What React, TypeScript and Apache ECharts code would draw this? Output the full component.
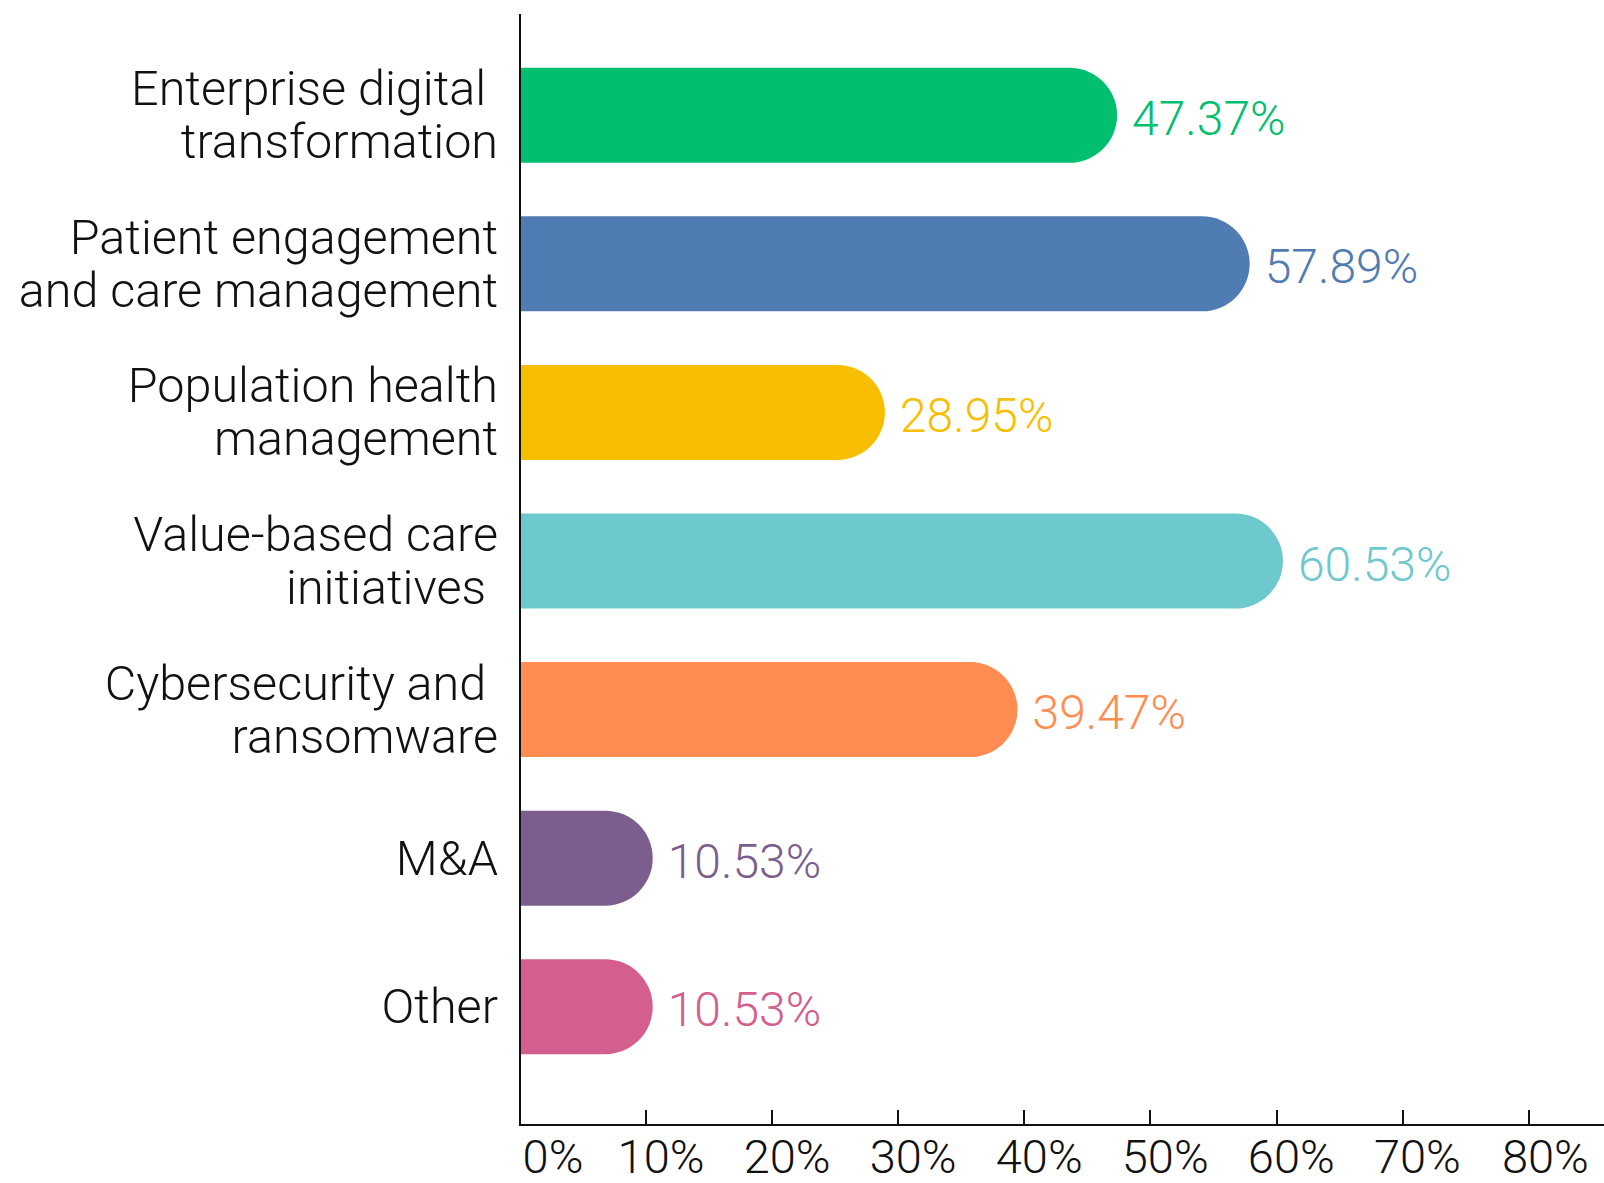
import React, { useEffect, useRef } from "react";
import * as echarts from "echarts";

const categories = [
  "Enterprise digital \ntransformation",
  "Patient engagement\nand care management",
  "Population health\nmanagement",
  "Value-based care\ninitiatives ",
  "Cybersecurity and \nransomware",
  "M&A",
  "Other",
];
const values = [47.37, 57.89, 28.95, 60.53, 39.47, 10.53, 10.53];
const barColors = ["#00BF6F", "#4F7CB3", "#F8BE00", "#6DC9CD", "#FF8C50", "#7C5E8E", "#D45E8E"];
const xTicks = [0, 10, 20, 30, 40, 50, 60, 70, 80];

const FONT = "Roboto";

export default function App() {
  const ref = useRef<HTMLDivElement>(null);
  useEffect(() => {
    document.body.style.margin = "0";
    const chart = echarts.init(ref.current!, null, { renderer: "svg" });
    const tickText = { fontFamily: FONT, fontWeight: 300, fontSize: 47, color: "#111", lineHeight: 36 };
    chart.setOption({
      animation: false,
      backgroundColor: "#ffffff",
      grid: { left: 520, right: 0, top: 41, bottom: 102, containLabel: false },
      xAxis: {
        type: "value",
        min: 0,
        max: 86,
        interval: 10,
        offset: 44,
        splitLine: { show: false },
        axisLine: { show: true, lineStyle: { color: "#111", width: 2 } },
        axisTick: { show: true, inside: true, length: 15, customValues: xTicks, lineStyle: { color: "#111", width: 2 } },
        axisLabel: {
          customValues: xTicks,
          showMinLabel: true,
          showMaxLabel: true,
          hideOverlap: false,
          ...tickText,
          margin: 13,
          formatter: (v: number) => (v === 0 ? "{z|0%}" : v === 80 ? "{e|80%}" : "{n|" + v + "%}"),
          rich: {
            z: { ...tickText, padding: [0, 0, 0, 66] },
            n: { ...tickText, padding: [0, 0, 0, 30] },
            e: { ...tickText, padding: [0, 0, 0, 34] },
          },
        },
      },
      yAxis: {
        type: "category",
        inverse: true,
        data: categories,
        axisLine: { show: false },
        axisTick: { show: false },
        axisLabel: {
          fontFamily: FONT,
          fontWeight: 300,
          fontSize: 48.5,
          lineHeight: 53,
          color: "#111",
          align: "right",
          margin: 22,
        },
      },
      graphic: [
        {
          type: "line",
          shape: { x1: 520, y1: 14, x2: 520, y2: 1126 },
          style: { stroke: "#111", lineWidth: 2 },
          z: 10,
        },
      ],
      series: [
        {
          type: "bar",
          barWidth: 95,
          data: values.map((v, i) => ({
            value: v,
            itemStyle: { color: barColors[i], borderRadius: [0, 47.5, 47.5, 0] },
            label: { color: barColors[i] },
          })),
          label: {
            show: true,
            position: "right",
            distance: 15,
            offset: [0, 3],
            fontFamily: FONT,
            fontWeight: 300,
            fontSize: 48,
            formatter: (p: any) => p.value.toFixed(2) + "%",
          },
        },
      ],
    });
    return () => chart.dispose();
  }, []);
  return <div ref={ref} style={{ width: 1604, height: 1183 }} />;
}
